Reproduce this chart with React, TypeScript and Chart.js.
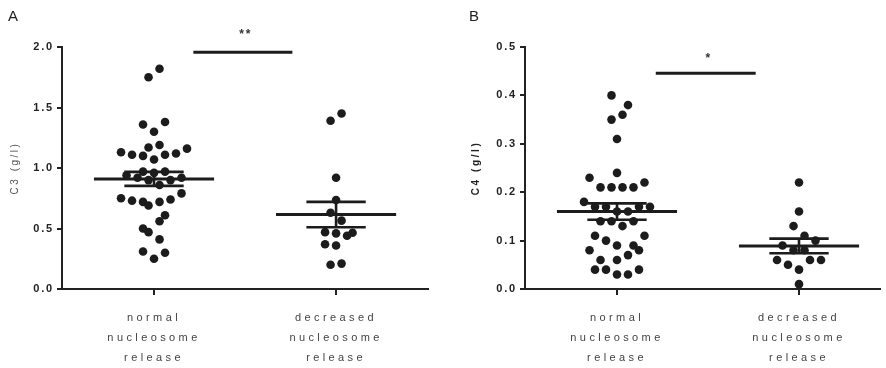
import React, { useEffect, useRef } from 'react';
import { Chart, registerables } from 'chart.js';

Chart.register(...registerables);

// ---------- data ----------
const categoryLabels: string[][] = [
  ['normal', 'nucleosome', 'release'],
  ['decreased', 'nucleosome', 'release'],
];

// Panel A: C3 (g/l)
const c3Normal = [
  1.82, 1.75, 1.36, 1.38, 1.30, 1.17, 1.19, 1.13, 1.11, 1.10, 1.07, 1.11, 1.12, 1.16,
  0.97, 0.96, 0.97, 0.94, 0.92, 0.90, 0.86, 0.90, 0.92,
  0.79, 0.75, 0.73, 0.72, 0.69, 0.72, 0.74,
  0.61, 0.56, 0.50, 0.47, 0.41, 0.31, 0.30, 0.25,
];
const c3NormalSlots = [
  1, -1, -2, 2, 0, -1, 1, -6, -4, -2, 0, 2, 4, 6,
  -2, 0, 2, -5, -3, -1, 1, 3, 5,
  5, -6, -4, -2, -1, 1, 3,
  2, 1, -2, -1, 1, -2, 2, 0,
];
const c3Decreased = [1.45, 1.39, 0.92, 0.735, 0.63, 0.565, 0.47, 0.46, 0.44, 0.465, 0.37, 0.36, 0.20, 0.21];
const c3DecreasedSlots = [1, -1, 0, 0, -1, 1, -2, 0, 2, 3, -2, 0, -1, 1];
const c3Mean = [0.91, 0.615];
const c3Sem = [0.058, 0.105];
const c3Ticks = [0, 0.5, 1.0, 1.5, 2.0];
const c3Sig = { from: 1.216, to: 1.76, y: 1.956, label: '**', labelY: 2.1 };

// Panel B: C4 (g/l)
const c4Normal = [
  0.40, 0.38, 0.36, 0.35, 0.31, 0.24, 0.23, 0.22,
  0.21, 0.21, 0.21, 0.21, 0.18,
  0.17, 0.17, 0.17, 0.17, 0.16, 0.16,
  0.14, 0.14, 0.14, 0.13, 0.11, 0.11, 0.10,
  0.09, 0.09, 0.08, 0.08, 0.07, 0.06, 0.06,
  0.04, 0.04, 0.04, 0.03, 0.03,
];
const c4NormalSlots = [
  -1, 2, 1, -1, 0, 0, -5, 5,
  -3, -1, 1, 3, -6,
  -4, -2, 4, 6, 0, 2,
  -3, -1, 3, 1, -4, 5, -2,
  0, 3, -5, 4, 2, -3, 0,
  -4, -2, 4, 0, 2,
];
const c4Decreased = [0.22, 0.16, 0.13, 0.11, 0.10, 0.09, 0.08, 0.08, 0.06, 0.06, 0.06, 0.05, 0.04, 0.01];
const c4DecreasedSlots = [0, 0, -1, 1, 3, -3, -1, 1, -4, 2, 4, -2, 0, 0];
const c4Mean = [0.16, 0.089];
const c4Sem = [0.017, 0.015];
const c4Ticks = [0, 0.1, 0.2, 0.3, 0.4, 0.5];
const c4Sig = { from: 1.213, to: 1.762, y: 0.446, label: '*', labelY: 0.475 };

// ---------- styling ----------
const FAMILY = "'Liberation Sans', Arial, Helvetica, sans-serif";
const INK = '#1c1c1c';
const slotWidth = 0.0302; // category units per half dot spacing
const meanHalf = 0.33;
const semHalf = 0.163;

const fontDesc = Object.getOwnPropertyDescriptor(CanvasRenderingContext2D.prototype, 'font');
function spacingFor(font: string): string {
  const bold = /bold|[6-9]00/.test(font);
  const m = /(\d+(?:\.\d+)?)px/.exec(font);
  const size = m ? parseFloat(m[1]) : 0;
  if (size === 11 && bold) return '1.8px';
  if (size === 11 && !bold) return '3.4px';
  if (size === 10 && !bold) return '2.5px';
  if (size === 10 && bold) return '2.6px';
  return '0px';
}
function patchContext(ctx: any) {
  if (!fontDesc || !fontDesc.set || !fontDesc.get || !('letterSpacing' in ctx)) return;
  Object.defineProperty(ctx, 'font', {
    configurable: true,
    get() { return (fontDesc.get as any).call(this); },
    set(v: string) {
      (fontDesc.set as any).call(this, v);
      this.letterSpacing = spacingFor(String(v));
    },
  });
}

interface PanelCfg {
  letter: string;
  title: string;
  titleFont: any;
  titleColor: string;
  titlePad: number;
  yWidth: number;
  rightPad: number;
  xMin: number;
  xMax: number;
  yMax: number;
  ticks: number[];
  groups: { values: number[]; slots: number[] }[];
  mean: number[];
  sem: number[];
  sig: { from: number; to: number; y: number; label: string; labelY: number };
}

function seg(points: { x: number; y: number }[], width: number) {
  return {
    data: points,
    showLine: true,
    borderColor: INK,
    backgroundColor: INK,
    borderWidth: width,
    pointRadius: 0,
    borderCapStyle: 'butt',
    fill: false,
  } as any;
}

function makeChart(canvas: HTMLCanvasElement, cfg: PanelCfg) {
  const ctx = canvas.getContext('2d') as any;
  patchContext(ctx);
  const datasets: any[] = [];
  cfg.groups.forEach((g, gi) => {
    const c = gi + 1;
    datasets.push({
      data: g.values.map((v, i) => ({ x: c + g.slots[i] * slotWidth, y: v })),
      pointRadius: 4.3,
      pointBackgroundColor: INK,
      pointBorderWidth: 0,
      showLine: false,
    });
  });
  cfg.groups.forEach((_, gi) => {
    const c = gi + 1;
    const m = cfg.mean[gi];
    const s = cfg.sem[gi];
    datasets.push(seg([{ x: c - meanHalf, y: m }, { x: c + meanHalf, y: m }], 3));
    datasets.push(seg([{ x: c - semHalf, y: m + s }, { x: c + semHalf, y: m + s }], 2.6));
    datasets.push(seg([{ x: c - semHalf, y: m - s }, { x: c + semHalf, y: m - s }], 2.6));
    datasets.push(seg([{ x: c, y: m - s }, { x: c, y: m + s }], 2.6));
  });
  datasets.push(seg([{ x: cfg.sig.from, y: cfg.sig.y }, { x: cfg.sig.to, y: cfg.sig.y }], 3));

  const extras = {
    id: 'extras',
    afterDraw(chart: any) {
      const c2 = chart.ctx;
      const xs = chart.scales.x;
      const ys = chart.scales.y;
      c2.save();
      // significance label
      c2.font = `bold 12px ${FAMILY}`;
      c2.letterSpacing = '2px';
      c2.fillStyle = '#333';
      c2.textAlign = 'center';
      c2.textBaseline = 'middle';
      const sx = xs.getPixelForValue((cfg.sig.from + cfg.sig.to) / 2);
      c2.fillText(cfg.sig.label, sx + 3, ys.getPixelForValue(cfg.sig.labelY));
      // panel letter
      c2.font = `15px ${FAMILY}`;
      c2.letterSpacing = '0px';
      c2.fillStyle = '#222';
      c2.textAlign = 'left';
      c2.textBaseline = 'top';
      c2.fillText(cfg.letter, cfg.letter === 'A' ? 8 : 26, 9);
      // x-axis line continues slightly left of the y axis
      const area = chart.chartArea;
      c2.fillStyle = '#222';
      c2.fillRect(area.left - 5, Math.round(area.bottom) - 1, 5, 2);
      c2.restore();
    },
  };

  return new Chart(ctx, {
    type: 'scatter',
    data: { datasets },
    options: {
      animation: false,
      responsive: false,
      events: [],
      layout: { padding: { left: 0, top: 47, right: cfg.rightPad, bottom: 0 } },
      plugins: { legend: { display: false }, tooltip: { enabled: false } },
      scales: {
        x: {
          type: 'linear',
          min: cfg.xMin,
          max: cfg.xMax,
          afterBuildTicks: (s: any) => { s.ticks = categoryLabels.map((_, i) => ({ value: i + 1 })); },
          afterFit: (s: any) => { s.height = 79; },
          ticks: {
            callback: (v: any) => categoryLabels[Math.round(Number(v)) - 1] || '',
            font: { family: FAMILY, size: 11, lineHeight: 1.8 },
            color: '#444',
            padding: 13,
            maxRotation: 0,
            autoSkip: false,
          },
          grid: { display: true, drawOnChartArea: false, tickLength: 6, lineWidth: 2, color: '#222' },
          border: { display: true, width: 2, color: '#222' },
        },
        y: {
          type: 'linear',
          min: 0,
          max: cfg.yMax,
          afterBuildTicks: (s: any) => { s.ticks = cfg.ticks.map((v) => ({ value: v })); },
          afterFit: (s: any) => { s.width = cfg.yWidth; },
          ticks: {
            callback: (v: any) => Number(v).toFixed(1),
            font: { family: FAMILY, size: 11, weight: 'bold' },
            color: '#222',
            padding: 3,
          },
          grid: { display: true, drawOnChartArea: false, tickLength: 5, lineWidth: 2, color: '#222' },
          border: { display: true, width: 2, color: '#222' },
          title: {
            display: true,
            text: cfg.title,
            font: cfg.titleFont,
            color: cfg.titleColor,
            padding: { top: cfg.titlePad, bottom: 0 },
          },
        },
      },
    } as any,
    plugins: [extras],
  });
}

const panelA: PanelCfg = {
  letter: 'A',
  title: 'C3 (g/l)',
  titleFont: { family: FAMILY, size: 10, lineHeight: 1.2 },
  titleColor: '#555',
  titlePad: 9,
  yWidth: 62,
  rightPad: 15,
  xMin: 0.4945,
  xMax: 2.505,
  yMax: 2.0,
  ticks: c3Ticks,
  groups: [
    { values: c3Normal, slots: c3NormalSlots },
    { values: c3Decreased, slots: c3DecreasedSlots },
  ],
  mean: c3Mean,
  sem: c3Sem,
  sig: c3Sig,
};

const panelB: PanelCfg = {
  letter: 'B',
  title: 'C4 (g/l)',
  titleFont: { family: FAMILY, size: 10, weight: 'bold', lineHeight: 1.2 },
  titleColor: '#222',
  titlePad: 27,
  yWidth: 82,
  rightPad: 6,
  xMin: 0.4945,
  xMax: 2.445,
  yMax: 0.5,
  ticks: c4Ticks,
  groups: [
    { values: c4Normal, slots: c4NormalSlots },
    { values: c4Decreased, slots: c4DecreasedSlots },
  ],
  mean: c4Mean,
  sem: c4Sem,
  sig: c4Sig,
};

function Panel({ cfg, left }: { cfg: PanelCfg; left: number }) {
  const ref = useRef<HTMLCanvasElement | null>(null);
  useEffect(() => {
    if (!ref.current) return;
    const chart = makeChart(ref.current, cfg);
    return () => chart.destroy();
  }, [cfg]);
  return (
    <canvas
      ref={ref}
      width={443}
      height={368}
      style={{ position: 'absolute', left, top: 0, width: 443, height: 368, display: 'block' }}
    />
  );
}

export default function App() {
  return (
    <div style={{ position: 'absolute', left: 0, top: 0, width: 886, height: 368, background: '#fff', overflow: 'hidden' }}>
      <Panel cfg={panelA} left={0} />
      <Panel cfg={panelB} left={443} />
    </div>
  );
}
